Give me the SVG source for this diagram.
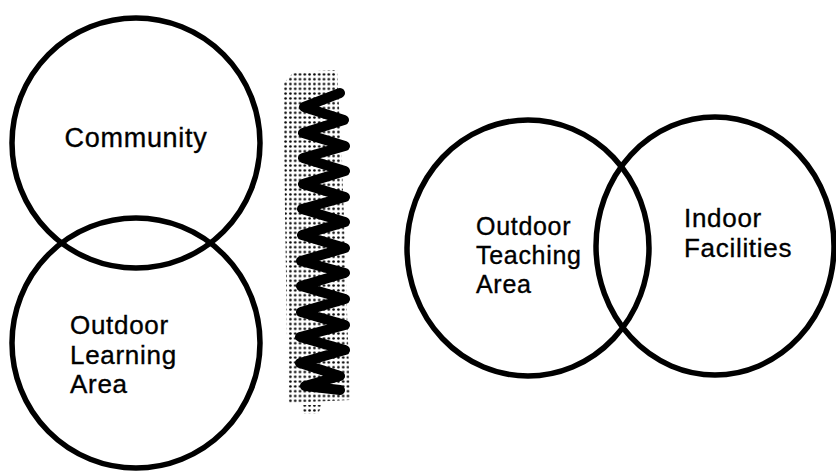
<svg xmlns="http://www.w3.org/2000/svg" width="836" height="472" viewBox="0 0 836 472">
<style>
.c{fill:none;stroke:#000;stroke-width:5.5}
.t{font-family:"Liberation Sans",Arial,sans-serif;font-size:26px;fill:#000;stroke:#000;stroke-width:0.35;letter-spacing:0.7px}
.z{fill:none;stroke:#000;stroke-width:10;stroke-linejoin:round;stroke-linecap:round}
</style>
<defs>
<pattern id="dots" width="4.8" height="4.8" patternUnits="userSpaceOnUse">
<circle cx="2.4" cy="2.4" r="1.3" fill="#000"/>
</pattern>
</defs>
<rect width="836" height="472" fill="#fff"/>
<g id="texture">
<polygon points="294,72 337,70 342,160 350,400 288,403 283,84" fill="url(#dots)"/>
<polygon points="302,405 322,405 318,414 304,414" fill="url(#dots)"/>
<polyline class="z" points="340,93 304,107 344,120 303,133 345,146 303,158 345,171 303,184 345,197 302,209 345,222 302,235 345,248 301,261 345,273 301,286 345,299 301,312 345,325 300,337 345,350 300,363 340,376 305,386 340,390"/>
</g>
<g id="community">
<ellipse class="c" cx="136" cy="143" rx="124" ry="125"/>
<text class="t" x="136" y="147" text-anchor="middle" style="font-size:27px">Community</text>
</g>
<g id="outdoor-learning">
<ellipse class="c" cx="136" cy="343" rx="124" ry="125"/>
<text class="t" x="70" y="334">Outdoor</text>
<text class="t" x="70" y="364">Learning</text>
<text class="t" x="70" y="393">Area</text>
</g>
<g id="outdoor-teaching">
<ellipse class="c" cx="528" cy="248" rx="121" ry="128"/>
<text class="t" x="476" y="235" style="font-size:25px">Outdoor</text>
<text class="t" x="476" y="264" style="font-size:25px">Teaching</text>
<text class="t" x="476" y="293" style="font-size:25px">Area</text>
</g>
<g id="indoor">
<ellipse class="c" cx="715" cy="246" rx="119" ry="129"/>
<text class="t" x="684" y="227">Indoor</text>
<text class="t" x="684" y="257">Facilities</text>
</g>
<g id="connectors"></g>
</svg>
